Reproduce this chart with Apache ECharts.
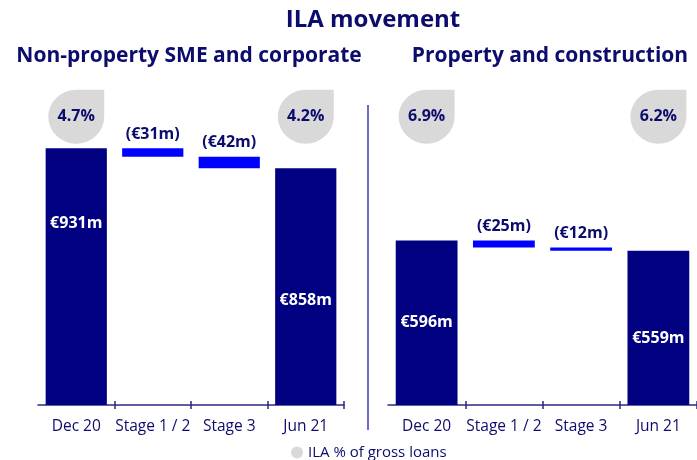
<!DOCTYPE html>
<html lang="en">
<head>
    <meta charset="UTF-8">
    <title>ILA movement</title>
    <style>
        html, body {margin: 0; padding: 0; background: #fff;}
        #main {width: 697px; height: 460px;}
    </style>
</head>
<body>
<div id="main"></div>
<script src="https://cdn.jsdelivr.net/npm/echarts@6/dist/echarts.min.js"></script>
<script>
    // data
    const categories = ['Dec 20', 'Stage 1 / 2', 'Stage 3', 'Jun 21'];
    const smeValues  = [931, -31, -42, 858];
    const propValues = [596, -25, -12, 559];
    const smeIla     = [4.7, null, null, 4.2];
    const propIla    = [6.9, null, null, 6.2];
    const legendName = 'ILA % of gross loans';

    const NAVY    = '#000080';
    const BLUE    = '#0000ff';
    const TEXT    = '#0c0c6c';
    const AXIS    = '#2a2a80';
    const GREY    = '#d9d9d9';
    const FONT    = 'Open Sans';
    const Y_MAX   = 1200;
    const DROP_Y  = 1045;
    // label nudges for the total bars (start, end) per panel
    const totalLabelDy = [[-53, 14], [0, 11]];

    const drop = 'path://M0,1A1,1,0,0,1,1,0L2,0L2,1A1,1,0,0,1,1,2A1,1,0,0,1,0,1Z';

    let chart = echarts.init(document.getElementById('main'));

    function waterfall(values) {
        // base (transparent) + visible part
        let base = [], part = [];
        let level = values[0];
        values.forEach(function (v, i) {
            if (i === 0 || i === values.length - 1) {
                base.push(0);
                part.push(v);
            } else {
                level += v;
                base.push(level);
                part.push(-v);
            }
        });
        return {base: base, part: part};
    }

    function panelSeries(values, ila, idx) {
        let wf = waterfall(values);
        let last = values.length - 1;
        let barData = wf.part.map(function (v, i) {
            let total = (i === 0 || i === last);
            return {
                value    : v,
                itemStyle: {color: total ? NAVY : BLUE},
                label    : total ? {
                    position  : 'inside',
                    color     : '#fff',
                    fontSize  : 16,
                    offset    : [0, totalLabelDy[idx][i === 0 ? 0 : 1]],
                    formatter : '€' + v + 'm'
                } : {
                    position  : 'top',
                    distance  : 6,
                    color     : TEXT,
                    fontSize  : 16,
                    formatter : '(€' + v + 'm)'
                }
            };
        });
        return [
            {
                type      : 'bar',
                xAxisIndex: idx * 2,
                yAxisIndex: idx,
                stack     : 'wf' + idx,
                silent    : true,
                itemStyle : {color: 'transparent'},
                data      : wf.base,
                barCategoryGap: '20%'
            },
            {
                type      : 'bar',
                xAxisIndex: idx * 2,
                yAxisIndex: idx,
                stack     : 'wf' + idx,
                barCategoryGap: '20%',
                label     : {show: true, fontFamily: FONT, fontWeight: 'bold'},
                data      : barData
            },
            {
                type      : 'scatter',
                name      : legendName,
                xAxisIndex: idx * 2,
                yAxisIndex: idx,
                symbol    : drop,
                symbolSize: [56, 54],
                itemStyle : {color: GREY, opacity: 1},
                label     : {
                    show      : true,
                    position  : 'inside',
                    color     : TEXT,
                    opacity   : 1,
                    fontFamily: FONT,
                    fontWeight: 'bold',
                    fontSize  : 16,
                    formatter : function (p) {
                        return ila[p.dataIndex].toFixed(1) + '%';
                    }
                },
                data      : ila.map(function (p) {
                    return p == null ? '-' : DROP_Y;
                })
            }
        ];
    }

    // ticks only between categories, none at the axis ends
    function innerTick(i) {
        return i > 0;
    }

    function xAxes(gridIndex) {
        return [
            {
                type      : 'category',
                gridIndex : gridIndex,
                data      : categories,
                axisLine  : {show: true, lineStyle: {color: AXIS, width: 1.5}},
                axisTick  : {
                    show     : true,
                    interval : innerTick,
                    length   : 4,
                    lineStyle: {color: AXIS, width: 1.5}
                },
                axisLabel : {interval: 0, color: TEXT, fontFamily: FONT, fontSize: 15.5, margin: 14}
            },
            {
                type      : 'category',
                gridIndex : gridIndex,
                position  : 'bottom',
                data      : categories,
                axisLine  : {show: false},
                axisTick  : {
                    show     : true,
                    interval : innerTick,
                    inside   : true,
                    length   : 4,
                    lineStyle: {color: AXIS, width: 1.5}
                },
                axisLabel : {show: false}
            }
        ];
    }

    let option = {
        animation: false,
        textStyle: {fontFamily: FONT},
        title    : [
            {
                text     : 'ILA movement',
                left     : 368,
                top      : 3,
                textAlign: 'center',
                textStyle: {color: TEXT, fontFamily: FONT, fontWeight: 'bold', fontSize: 24}
            },
            {
                text     : 'Non-property SME and corporate',
                left     : 184,
                top      : 41,
                textAlign: 'center',
                textStyle: {color: TEXT, fontFamily: FONT, fontWeight: 'bold', fontSize: 21}
            },
            {
                text     : 'Property and construction',
                left     : 545,
                top      : 41,
                textAlign: 'center',
                textStyle: {color: TEXT, fontFamily: FONT, fontWeight: 'bold', fontSize: 21}
            }
        ],
        legend   : {
            data      : [{name: legendName, icon: 'circle', itemStyle: {color: GREY}}],
            left      : 286,
            top       : 440,
            itemWidth : 12,
            itemHeight: 12,
            itemGap   : 4,
            textStyle : {color: TEXT, fontFamily: FONT, fontSize: 15}
        },
        grid     : [
            {left: 38, right: 353, top: 74, bottom: 55},
            {left: 388, right: 0, top: 74, bottom: 55}
        ],
        xAxis    : xAxes(0).concat(xAxes(1)),
        yAxis    : [
            {gridIndex: 0, min: 0, max: Y_MAX, show: false},
            {gridIndex: 1, min: 0, max: Y_MAX, show: false}
        ],
        graphic  : [
            {
                type : 'line',
                shape: {x1: 368, y1: 105, x2: 368, y2: 430},
                style: {stroke: '#6b6bc8', lineWidth: 2}
            }
        ],
        series   : panelSeries(smeValues, smeIla, 0).concat(panelSeries(propValues, propIla, 1))
    };

    chart.setOption(option);
</script>
</body>
</html>
